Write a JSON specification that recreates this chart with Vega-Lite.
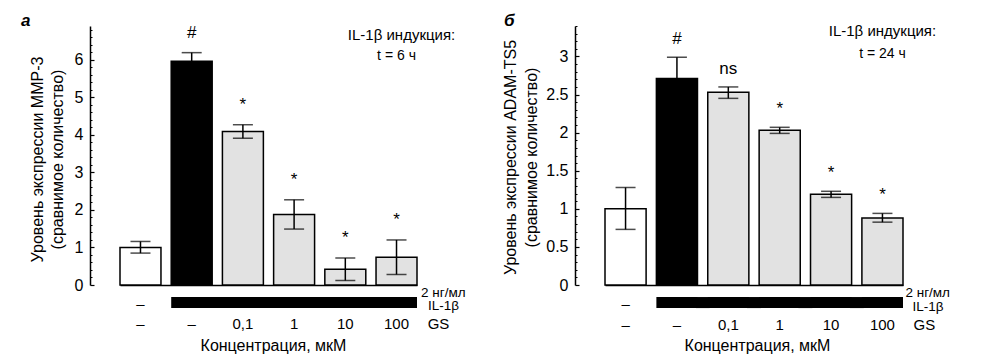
{
  "$schema": "https://vega.github.io/schema/vega-lite/v6.json",
  "padding": {"left": 21, "top": 11, "right": 5, "bottom": 2},
  "background": "white",
  "config": {
    "view": {"stroke": null},
    "font": "Liberation Sans",
    "text": {"font": "Liberation Sans", "fontSize": 15, "color": "black"},
    "title": {"font": "Liberation Sans", "fontSize": 17, "fontWeight": "bold", "fontStyle": "italic", "color": "black", "anchor": "start", "frame": "group", "baseline": "alphabetic", "offset": -6}
  },
  "datasets": {
    "mmp": [
      {"g": "c", "type": "control", "v": 1.0, "lo": 0.85, "hi": 1.16, "gs": "–", "sig": ""},
      {"g": "il", "type": "il", "v": 5.96, "lo": 5.73, "hi": 6.19, "gs": "–", "sig": "#"},
      {"g": "0,1", "type": "gs", "v": 4.09, "lo": 3.91, "hi": 4.27, "gs": "0,1", "sig": "*"},
      {"g": "1", "type": "gs", "v": 1.88, "lo": 1.49, "hi": 2.27, "gs": "1", "sig": "*"},
      {"g": "10", "type": "gs", "v": 0.42, "lo": 0.12, "hi": 0.72, "gs": "10", "sig": "*"},
      {"g": "100", "type": "gs", "v": 0.74, "lo": 0.28, "hi": 1.2, "gs": "100", "sig": "*"}
    ],
    "adam": [
      {"g": "c", "type": "control", "v": 1.0, "lo": 0.73, "hi": 1.28, "gs": "–", "sig": ""},
      {"g": "il", "type": "il", "v": 2.71, "lo": 2.43, "hi": 2.99, "gs": "–", "sig": "#"},
      {"g": "0,1", "type": "gs", "v": 2.53, "lo": 2.45, "hi": 2.6, "gs": "0,1", "sig": "ns"},
      {"g": "1", "type": "gs", "v": 2.03, "lo": 1.99, "hi": 2.07, "gs": "1", "sig": "*"},
      {"g": "10", "type": "gs", "v": 1.19, "lo": 1.15, "hi": 1.23, "gs": "10", "sig": "*"},
      {"g": "100", "type": "gs", "v": 0.88, "lo": 0.825, "hi": 0.94, "gs": "100", "sig": "*"}
    ]
  },
  "hconcat": [
    {
      "width": 338,
      "height": 259,
      "title": {"text": "а", "dx": -69},
      "data": {"name": "mmp"},
      "encoding": {
        "x": {"field": "g", "type": "nominal", "sort": null,
          "scale": {"range": [30, 327], "paddingInner": 0.2, "paddingOuter": 0},
          "axis": {"title": "Концентрация, мкМ", "labels": false, "ticks": false, "domain": true, "domainColor": "black", "domainWidth": 1.5, "titleFont": "Liberation Sans", "titleFontSize": 16, "titleFontWeight": "normal", "titleColor": "black", "titleX": 183, "titleY": 60, "titleBaseline": "middle", "titleAlign": "center"}}
      },
      "layer": [
        {
          "mark": {"type": "bar", "stroke": "black", "strokeWidth": 1.5},
          "encoding": {
            "y": {"field": "v", "type": "quantitative", "scale": {"domain": [0, 6.9], "nice": false, "zero": true},
              "axis": {"title": ["Уровень экспрессии MMP-3", "(сравнимое количество)"], "values": [0, 1, 2, 3, 4, 5, 6], "format": "~g", "ticks": false, "tickSize": 0, "labelPadding": 7, "labelFont": "Liberation Sans", "labelFontSize": 16, "labelColor": "black", "domainColor": "black", "domainWidth": 1.5, "grid": false, "titleFont": "Liberation Sans", "titleFontSize": 16, "titleFontWeight": "normal", "titleColor": "black", "titleAngle": -90, "titleBaseline": "middle", "titleAlign": "center", "titleX": -53, "titleY": 133, "titleLineHeight": 20}},
            "color": {"field": "type", "type": "nominal", "scale": {"domain": ["control", "il", "gs"], "range": ["white", "black", "#e2e2e2"]}, "legend": null}
          }
        },
        {
          "mark": {"type": "rule", "color": "black", "strokeWidth": 1.5},
          "encoding": {
            "y": {"field": "lo", "type": "quantitative", "scale": {"domain": [0, 6.9], "nice": false},
              "axis": {"orient": "right", "offset": -338, "values": [0, 1, 2, 3, 4, 5, 6], "labels": false, "domain": false, "grid": false, "title": null, "ticks": true, "tickSize": 4, "tickColor": "black", "tickWidth": 1.2}},
            "y2": {"field": "hi"}
          }
        },
        {
          "mark": {"type": "tick", "color": "black", "thickness": 1.5},
          "encoding": {
            "y": {"field": "lo", "type": "quantitative", "scale": {"domain": [0, 6.9], "nice": false},
              "axis": {"orient": "right", "offset": -338, "values": [0.2, 0.4, 0.6, 0.8, 1.2, 1.4, 1.6, 1.8, 2.2, 2.4, 2.6, 2.8, 3.2, 3.4, 3.6, 3.8, 4.2, 4.4, 4.6, 4.8, 5.2, 5.4, 5.6, 5.8, 6.2, 6.4, 6.6, 6.8], "labels": false, "domain": false, "grid": false, "title": null, "ticks": true, "tickSize": 2, "tickColor": "black", "tickWidth": 1}},
            "size": {"value": 20}
          }
        },
        {
          "mark": {"type": "tick", "color": "black", "thickness": 1.5},
          "encoding": {
            "y": {"field": "hi", "type": "quantitative", "axis": null},
            "size": {"value": 20}
          }
        },
        {
          "mark": {"type": "text", "baseline": "alphabetic", "dy": -15, "fontSize": 17},
          "encoding": {
            "y": {"field": "hi", "type": "quantitative", "axis": null},
            "text": {"field": "sig"}
          }
        },
        {
          "transform": [{"filter": "datum.type != 'control'"}],
          "mark": {"type": "bar", "color": "black"},
          "encoding": {"y": {"datum": -0.32, "axis": null}, "y2": {"datum": -0.613}}
        },
        {
          "transform": [{"filter": "datum.type != 'control' && datum.g != '100'"}],
          "mark": {"type": "bar", "color": "black", "width": 14, "xOffset": 25.6},
          "encoding": {"y": {"datum": -0.32, "axis": null}, "y2": {"datum": -0.613}}
        },
        {
          "transform": [{"filter": "datum.type == 'control'"}],
          "mark": {"type": "text", "baseline": "middle"},
          "encoding": {"y": {"datum": -0.507, "axis": null}, "text": {"value": "–"}}
        },
        {
          "mark": {"type": "text", "baseline": "middle"},
          "encoding": {"y": {"datum": -1.03, "axis": null}, "text": {"field": "gs"}}
        },
        {
          "data": {"values": [{"t": "2 нг/мл"}]},
          "mark": {"type": "text", "baseline": "middle", "align": "left", "dx": 24.5, "fontSize": 13.5},
          "encoding": {"x": {"datum": "100"}, "y": {"datum": -0.2, "axis": null}, "text": {"field": "t"}}
        },
        {
          "data": {"values": [{"t": "IL-1β"}]},
          "mark": {"type": "text", "baseline": "middle", "align": "left", "dx": 31.5, "fontSize": 13.5},
          "encoding": {"x": {"datum": "100"}, "y": {"datum": -0.56, "axis": null}, "text": {"field": "t"}}
        },
        {
          "data": {"values": [{"t": "GS"}]},
          "mark": {"type": "text", "baseline": "middle", "align": "center", "dx": 42},
          "encoding": {"x": {"datum": "100"}, "y": {"datum": -1.03, "axis": null}, "text": {"field": "t"}}
        },
        {
          "data": {"values": [{"t": "IL-1β индукция:"}]},
          "mark": {"type": "text", "baseline": "middle", "align": "center", "dx": 5, "fontSize": 15},
          "encoding": {"x": {"datum": "100"}, "y": {"datum": 6.67, "axis": null}, "text": {"field": "t"}}
        },
        {
          "data": {"values": [{"t": "t = 6 ч"}]},
          "mark": {"type": "text", "baseline": "middle", "align": "center", "dx": 0, "fontSize": 14},
          "encoding": {"x": {"datum": "100"}, "y": {"datum": 6.1, "axis": null}, "text": {"field": "t"}}
        }
      ],
      "resolve": {"axis": {"y": "independent"}}
    },
    {
      "width": 357,
      "height": 259,
      "title": {"text": "б", "dx": -71},
      "data": {"name": "adam"},
      "encoding": {
        "x": {"field": "g", "type": "nominal", "sort": null,
          "scale": {"range": [30, 328], "paddingInner": 0.2, "paddingOuter": 0},
          "axis": {"title": "Концентрация, мкМ", "labels": false, "ticks": false, "domain": true, "domainColor": "black", "domainWidth": 1.5, "titleFont": "Liberation Sans", "titleFontSize": 16, "titleFontWeight": "normal", "titleColor": "black", "titleX": 182, "titleY": 60, "titleBaseline": "middle", "titleAlign": "center"}}
      },
      "layer": [
        {
          "mark": {"type": "bar", "stroke": "black", "strokeWidth": 1.5},
          "encoding": {
            "y": {"field": "v", "type": "quantitative", "scale": {"domain": [0, 3.4], "nice": false, "zero": true},
              "axis": {"title": ["Уровень экспрессии ADAM-TS5", "(сравнимое количество)"], "values": [0, 0.5, 1, 1.5, 2, 2.5, 3], "format": "~g", "ticks": false, "tickSize": 0, "labelPadding": 7, "labelFont": "Liberation Sans", "labelFontSize": 16, "labelColor": "black", "domainColor": "black", "domainWidth": 1.5, "grid": false, "titleFont": "Liberation Sans", "titleFontSize": 16, "titleFontWeight": "normal", "titleColor": "black", "titleAngle": -90, "titleBaseline": "middle", "titleAlign": "center", "titleX": -65, "titleY": 131, "titleLineHeight": 21}},
            "color": {"field": "type", "type": "nominal", "scale": {"domain": ["control", "il", "gs"], "range": ["white", "black", "#e2e2e2"]}, "legend": null}
          }
        },
        {
          "mark": {"type": "rule", "color": "black", "strokeWidth": 1.5},
          "encoding": {
            "y": {"field": "lo", "type": "quantitative", "scale": {"domain": [0, 3.4], "nice": false},
              "axis": {"orient": "right", "offset": -357, "values": [0, 0.5, 1, 1.5, 2, 2.5, 3], "labels": false, "domain": false, "grid": false, "title": null, "ticks": true, "tickSize": 4, "tickColor": "black", "tickWidth": 1.2}},
            "y2": {"field": "hi"}
          }
        },
        {
          "mark": {"type": "tick", "color": "black", "thickness": 1.5},
          "encoding": {
            "y": {"field": "lo", "type": "quantitative", "scale": {"domain": [0, 3.4], "nice": false},
              "axis": {"orient": "right", "offset": -357, "values": [0.1, 0.2, 0.3, 0.4, 0.6, 0.7, 0.8, 0.9, 1.1, 1.2, 1.3, 1.4, 1.6, 1.7, 1.8, 1.9, 2.1, 2.2, 2.3, 2.4, 2.6, 2.7, 2.8, 2.9, 3.1, 3.2, 3.3, 3.4], "labels": false, "domain": false, "grid": false, "title": null, "ticks": true, "tickSize": 2, "tickColor": "black", "tickWidth": 1}},
            "size": {"value": 20}
          }
        },
        {
          "mark": {"type": "tick", "color": "black", "thickness": 1.5},
          "encoding": {
            "y": {"field": "hi", "type": "quantitative", "axis": null},
            "size": {"value": 20}
          }
        },
        {
          "mark": {"type": "text", "baseline": "alphabetic", "dy": -13, "fontSize": 17},
          "encoding": {
            "y": {"field": "hi", "type": "quantitative", "axis": null},
            "text": {"field": "sig"}
          }
        },
        {
          "transform": [{"filter": "datum.type != 'control'"}],
          "mark": {"type": "bar", "color": "black"},
          "encoding": {"y": {"datum": -0.158, "axis": null}, "y2": {"datum": -0.303}}
        },
        {
          "transform": [{"filter": "datum.type != 'control' && datum.g != '100'"}],
          "mark": {"type": "bar", "color": "black", "width": 14, "xOffset": 25.7},
          "encoding": {"y": {"datum": -0.158, "axis": null}, "y2": {"datum": -0.303}}
        },
        {
          "transform": [{"filter": "datum.type == 'control'"}],
          "mark": {"type": "text", "baseline": "middle"},
          "encoding": {"y": {"datum": -0.25, "axis": null}, "text": {"value": "–"}}
        },
        {
          "mark": {"type": "text", "baseline": "middle"},
          "encoding": {"y": {"datum": -0.526, "axis": null}, "text": {"field": "gs"}}
        },
        {
          "data": {"values": [{"t": "2 нг/мл"}]},
          "mark": {"type": "text", "baseline": "middle", "align": "left", "dx": 23, "fontSize": 13.5},
          "encoding": {"x": {"datum": "100"}, "y": {"datum": -0.1, "axis": null}, "text": {"field": "t"}}
        },
        {
          "data": {"values": [{"t": "IL-1β"}]},
          "mark": {"type": "text", "baseline": "middle", "align": "left", "dx": 30, "fontSize": 13.5},
          "encoding": {"x": {"datum": "100"}, "y": {"datum": -0.285, "axis": null}, "text": {"field": "t"}}
        },
        {
          "data": {"values": [{"t": "GS"}]},
          "mark": {"type": "text", "baseline": "middle", "align": "center", "dx": 42},
          "encoding": {"x": {"datum": "100"}, "y": {"datum": -0.526, "axis": null}, "text": {"field": "t"}}
        },
        {
          "data": {"values": [{"t": "IL-1β индукция:"}]},
          "mark": {"type": "text", "baseline": "middle", "align": "center", "dx": 0, "fontSize": 15},
          "encoding": {"x": {"datum": "100"}, "y": {"datum": 3.33, "axis": null}, "text": {"field": "t"}}
        },
        {
          "data": {"values": [{"t": "t = 24 ч"}]},
          "mark": {"type": "text", "baseline": "middle", "align": "center", "dx": 0, "fontSize": 14},
          "encoding": {"x": {"datum": "100"}, "y": {"datum": 3.03, "axis": null}, "text": {"field": "t"}}
        }
      ],
      "resolve": {"axis": {"y": "independent"}}
    }
  ],
  "spacing": 147,
  "bounds": "flush"
}
